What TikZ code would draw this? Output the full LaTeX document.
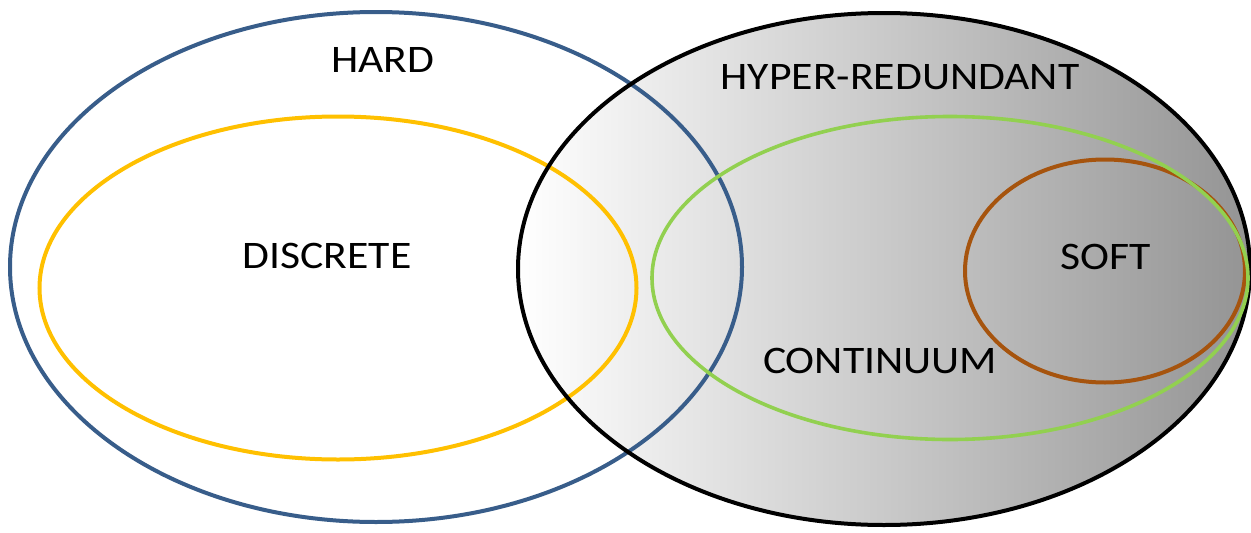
\documentclass[tikz,border=0pt]{standalone}
\usepackage{fontspec}
\setmainfont{Carlito}
\usetikzlibrary{shapes.geometric}
\definecolor{hardblue}{RGB}{56,93,138}
\definecolor{discyellow}{RGB}{255,192,0}
\definecolor{contgreen}{RGB}{146,208,80}
\definecolor{softbrown}{RGB}{166,84,14}
\begin{document}
\begin{tikzpicture}[x=1pt,y=-1pt,
  set/.style={ellipse,inner sep=0pt,line width=4pt},
  lbl/.style={inner sep=0pt,font=\fontsize{39}{44}\selectfont},
]
\useasboundingbox (0,0) rectangle (1251,533);
% shaded body of the hyper-redundant set
\node[set,minimum width=732pt,minimum height=512pt,
      left color=white,right color=black!42,shading angle=90] (hyperfill) at (884,269) {};
% outlines
\node[set,draw=hardblue,minimum width=732pt,minimum height=510pt] (hard) at (376,267) {};
\node[set,draw=discyellow,minimum width=597pt,minimum height=343pt] (discrete) at (338,288) {};
\node[set,draw=black,minimum width=732pt,minimum height=512pt] (hyper) at (884,269) {};
\node[set,draw=softbrown,minimum width=280pt,minimum height=223pt] (soft) at (1105,271) {};
\node[set,draw=contgreen,line width=3.6pt,minimum width=596pt,minimum height=323pt] (continuum) at (950,278) {};
% labels
\node[lbl] (thard) at (383,60) {\scalebox{1.12}[1]{HARD}};
\node[lbl] (tdiscrete) at (327,256) {\scalebox{1.12}[1]{DISCRETE}};
\node[lbl] (thyper) at (900,77) {\scalebox{1.12}[1]{HYPER-REDUNDANT}};
\node[lbl] (tcontinuum) at (880,361) {\scalebox{1.12}[1]{CONTINUUM}};
\node[lbl] (tsoft) at (1106,257) {\scalebox{1.12}[1]{SOFT}};
\end{tikzpicture}
\end{document}
